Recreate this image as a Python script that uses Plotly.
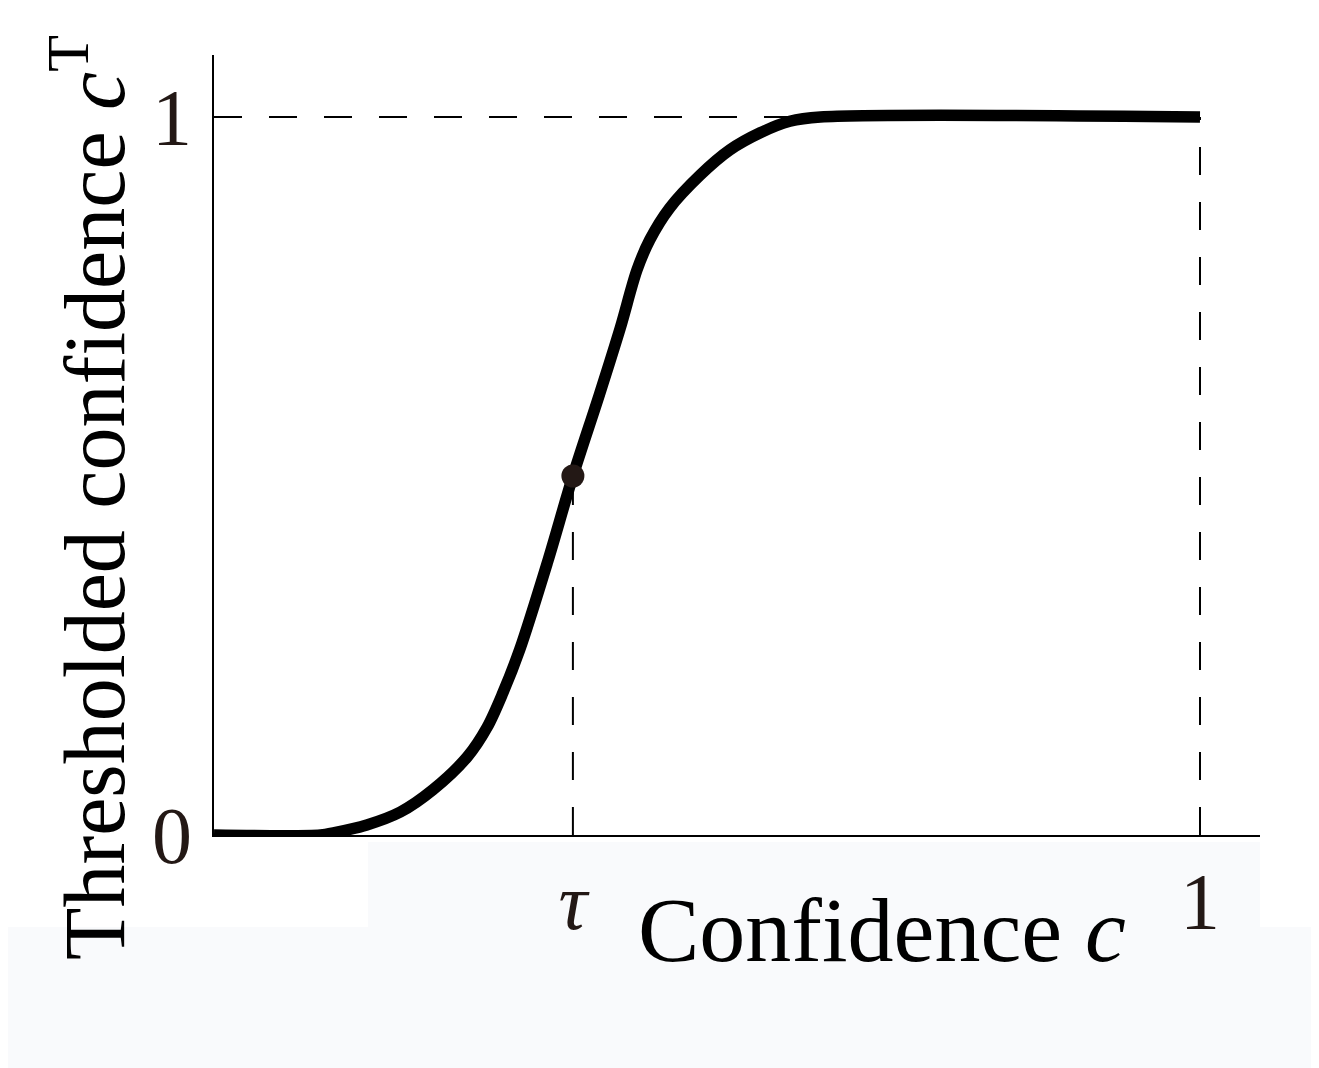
import plotly.graph_objects as go

# curve: confidence c -> thresholded confidence c^T
conf = [0.0, 0.108, 0.121, 0.155, 0.189, 0.222, 0.257, 0.277, 0.293, 0.310,
        0.338, 0.364, 0.391, 0.412, 0.429, 0.442, 0.462, 0.493, 0.523, 0.554,
        0.584, 0.615, 1.0]
thresholded = [0.0, 0.0, 0.003, 0.014, 0.032, 0.063, 0.109, 0.150, 0.198, 0.258,
               0.379, 0.5, 0.614, 0.706, 0.787, 0.829, 0.873, 0.919, 0.954, 0.978,
               0.994, 1.0, 1.0]

tau = 0.364
tau_value = 0.5
x_ticks = [tau, 1]
x_labels = ["<i>τ</i>", "1"]
y_ticks = [0, 1]
y_labels = ["0", "1"]

# the page puts the figure 8px in from the window corner
OFF = 8
W, H = 1319 - OFF, 1068 - OFF
L, R, T, B = 214 - OFF, 1319 - 1260, 55 - OFF, 1068 - 835
SERIF = "Liberation Serif"
INK = "#231815"
DASH = "28px,27px"


def px_x(p):
    # window pixel -> paper x
    return (p - OFF - L) / (W - L - R)


def px_y(p):
    # window pixel -> paper y
    return (H - B - (p - OFF)) / (H - T - B)


fig = go.Figure()

# dashed guide lines
fig.add_trace(go.Scatter(x=[0, 1], y=[1, 1], mode="lines",
                         line=dict(color="black", width=2, dash=DASH)))
fig.add_trace(go.Scatter(x=[1, 1], y=[0, 1], mode="lines",
                         line=dict(color="black", width=2, dash=DASH)))
fig.add_trace(go.Scatter(x=[tau, tau], y=[0, tau_value], mode="lines",
                         line=dict(color="black", width=2, dash=DASH)))

fig.add_trace(go.Scatter(x=conf, y=thresholded, mode="lines",
                         line=dict(color="black", width=11.5, shape="spline", smoothing=0.9)))
fig.add_trace(go.Scatter(x=[tau], y=[tau_value], mode="markers",
                         marker=dict(color=INK, size=23)))

# faint grey scan background at the bottom
for x0, x1, y0, y1 in [(368, 1260, 842, 927), (0, 1319, 927, 1068)]:
    fig.add_shape(type="rect", xref="paper", yref="paper", layer="below",
                  x0=px_x(x0), x1=px_x(x1), y0=px_y(y1), y1=px_y(y0),
                  fillcolor="#f9fafc", line_width=0)

fig.add_annotation(xref="paper", yref="paper", x=px_x(882), y=px_y(930),
                   text="Confidence <i>c</i>", showarrow=False,
                   font=dict(family=SERIF, size=92, color="black"),
                   xanchor="center", yanchor="middle")
fig.add_annotation(xref="paper", yref="paper", x=px_x(88), y=px_y(498),
                   text="Thresholded confidence <i>c</i><sup>T</sup>", showarrow=False,
                   textangle=-90, font=dict(family=SERIF, size=86, color="black"),
                   xanchor="center", yanchor="middle")

fig.update_layout(
    width=W, height=H,
    margin=dict(l=L, r=R, t=T, b=B),
    plot_bgcolor="white", paper_bgcolor="white",
    showlegend=False,
    xaxis=dict(range=[0, 1046 / 986], showgrid=False, zeroline=False,
               showline=True, linecolor="black", linewidth=2,
               tickvals=x_ticks, ticktext=x_labels, ticks="",
               ticklabelstandoff=-4,
               tickfont=dict(family=SERIF, size=80, color=INK)),
    yaxis=dict(range=[0, 780 / 718], showgrid=False, zeroline=False,
               showline=True, linecolor="black", linewidth=2,
               tickvals=y_ticks, ticktext=y_labels, ticks="",
               ticklabelstandoff=4,
               tickfont=dict(family=SERIF, size=80, color=INK)),
)

fig.write_html("out.html")
